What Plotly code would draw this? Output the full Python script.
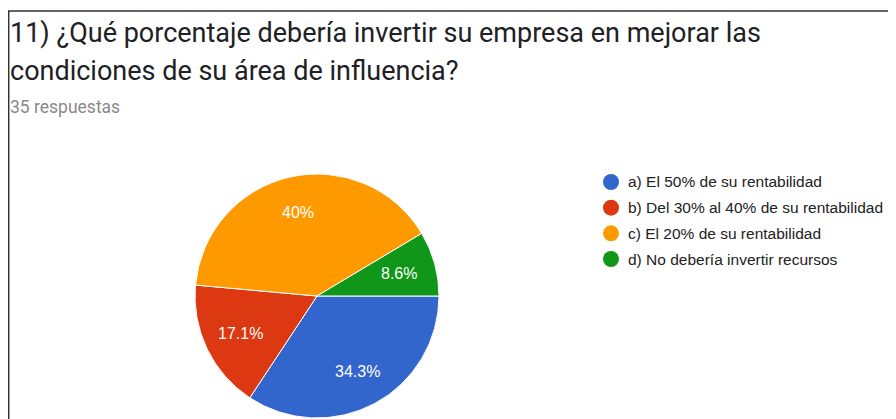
import math
import plotly.graph_objects as go

OFF = 8  # page body margin offset
W, H = 896 - OFF, 419 - OFF

labels = ["a) El 50% de su rentabilidad",
          "b) Del 30% al 40% de su rentabilidad",
          "c) El 20% de su rentabilidad",
          "d) No debería invertir recursos"]
values = [12, 6, 14, 3]
colors = ["#3366CC", "#DC3912", "#FF9900", "#109618"]
title_lines = ["11) ¿Qué porcentaje debería invertir su empresa en mejorar las",
               "condiciones de su área de influencia?"]
subtitle = "35 respuestas"

total = sum(values)
def fmt(v):
    s = f"{v / total * 100:.1f}"
    if s.endswith(".0"):
        s = s[:-2]
    return s + "%"
texts = [fmt(v) for v in values]

def px(x):
    return (x - OFF) / W
def py(y):
    return 1 - (y - OFF) / H

# pie geometry (screen px)
CX, CY, R = 317, 296, 122

fig = go.Figure()
fig.add_trace(go.Pie(
    labels=labels, values=values, textinfo="none",
    sort=False, direction="clockwise", rotation=90,
    marker=dict(colors=colors, line=dict(color="white", width=1)),
    domain=dict(x=[px(CX - R), px(CX + R)], y=[py(CY + R), py(CY - R)]),
    showlegend=False, hoverinfo="label+percent",
))

annotations = [
    dict(text=title_lines[0], x=px(8), y=py(33), xref="paper", yref="paper",
         xanchor="left", yanchor="middle", showarrow=False,
         font=dict(family="Roboto", size=27, color="#202124")),
    dict(text=title_lines[1], x=px(8), y=py(71), xref="paper", yref="paper",
         xanchor="left", yanchor="middle", showarrow=False,
         font=dict(family="Roboto", size=27, color="#202124")),
    dict(text=subtitle, x=px(8), y=py(107), xref="paper", yref="paper",
         xanchor="left", yanchor="middle", showarrow=False,
         font=dict(family="Roboto", size=17.5, color="#8a8a8a")),
]

# slice labels along each slice bisector
cum = 0
for v, t in zip(values, texts):
    mid = (cum + v / 2) / total * 2 * math.pi
    cum += v
    lx = CX + 0.70 * R * math.cos(mid)
    ly = CY + 0.70 * R * math.sin(mid)
    annotations.append(dict(text=t, x=px(lx), y=py(ly), xref="paper", yref="paper",
                            xanchor="center", yanchor="middle", showarrow=False,
                            font=dict(family="Liberation Sans, Arial", size=16, color="white")))

shapes = [
    dict(type="line", xref="paper", yref="paper", x0=px(8), x1=1, y0=py(11), y1=py(11),
         line=dict(color="#333333", width=1.5)),
    dict(type="line", xref="paper", yref="paper", x0=px(8.7), x1=px(8.7), y0=py(11), y1=0,
         line=dict(color="#333333", width=1.5)),
]

# legend: circle marker + label per category
LX, LY0, LDY = 611, 182, 25.67
for i, (lab, col) in enumerate(zip(labels, colors)):
    yy = LY0 + i * LDY
    shapes.append(dict(type="circle", xref="paper", yref="paper",
                       xsizemode="pixel", ysizemode="pixel",
                       xanchor=px(LX), yanchor=py(yy),
                       x0=-8, x1=8, y0=-8, y1=8,
                       fillcolor=col, line=dict(width=0)))
    annotations.append(dict(text=lab, x=px(LX + 15), y=py(yy), xref="paper", yref="paper",
                            xanchor="left", yanchor="middle", showarrow=False,
                            font=dict(family="Liberation Sans, Arial", size=15.5, color="#222222")))

fig.update_layout(
    width=W, height=H, margin=dict(l=0, r=0, t=0, b=0),
    paper_bgcolor="white", plot_bgcolor="white",
    annotations=annotations, shapes=shapes, showlegend=False,
)
fig.write_html("out.html")
